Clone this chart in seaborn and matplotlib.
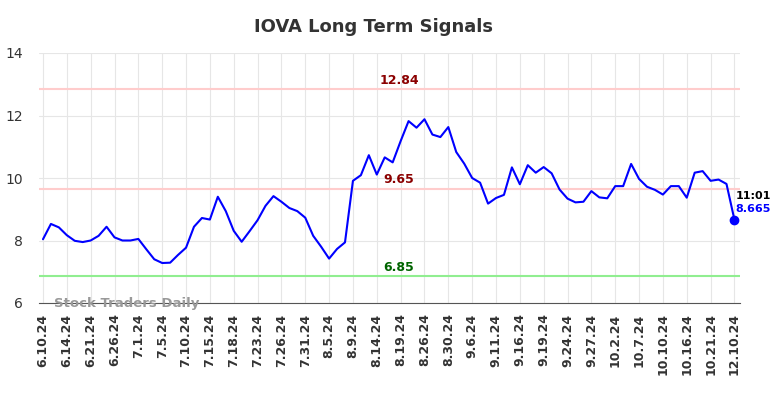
import numpy as np
import pandas as pd
import seaborn as sns
import matplotlib.pyplot as plt

# closing prices, one per trading day
prices = [8.04, 8.53, 8.42, 8.17, 7.99, 7.95, 8.00, 8.15, 8.44, 8.10,
          8.00, 8.00, 8.05, 7.72, 7.40, 7.28, 7.29, 7.54, 7.77, 8.44,
          8.72, 8.67, 9.40, 8.94, 8.31, 7.96, 8.30, 8.65, 9.11, 9.42,
          9.24, 9.04, 8.94, 8.73, 8.15, 7.80, 7.42, 7.73, 7.94, 9.91,
          10.09, 10.73, 10.11, 10.66, 10.50, 11.18, 11.82, 11.61, 11.88, 11.39,
          11.31, 11.63, 10.83, 10.46, 10.00, 9.85, 9.18, 9.36, 9.46, 10.34,
          9.80, 10.41, 10.17, 10.35, 10.15, 9.63, 9.34, 9.22, 9.24, 9.58,
          9.38, 9.35, 9.74, 9.74, 10.45, 9.97, 9.72, 9.62, 9.47, 9.74,
          9.74, 9.37, 10.17, 10.22, 9.91, 9.95, 9.81, 8.665]

tick_labels = ["6.10.24", "6.14.24", "6.21.24", "6.26.24", "7.1.24", "7.5.24",
               "7.10.24", "7.15.24", "7.18.24", "7.23.24", "7.26.24", "7.31.24",
               "8.5.24", "8.9.24", "8.14.24", "8.19.24", "8.26.24", "8.30.24",
               "9.6.24", "9.11.24", "9.16.24", "9.19.24", "9.24.24", "9.27.24",
               "10.2.24", "10.7.24", "10.10.24", "10.16.24", "10.21.24", "12.10.24"]

resistance_levels = [12.84, 9.65]
support_level = 6.85
last_time = "11:01"

df = pd.DataFrame({"idx": np.arange(len(prices)), "price": prices})

sns.set_style("whitegrid", {"grid.color": "#e6e6e6"})
fig = plt.figure(figsize=(7.84, 3.98), dpi=100)
ax = fig.add_axes([39 / 784, 1 - 303 / 398, (740 - 39) / 784, 250 / 398])

for lvl in resistance_levels:
    ax.axhline(lvl, color="#ffcccc", lw=1.5, zorder=1)
ax.axhline(support_level, color="#90ee90", lw=1.5, zorder=1)

sns.lineplot(data=df, x="idx", y="price", color="blue", lw=1.5, ax=ax, zorder=3)
ax.plot(df["idx"].iloc[-1], prices[-1], "o", color="blue", ms=6, zorder=4)

ax.set_xlim(-0.5, 87.7)
ax.set_ylim(6, 14)
ax.set_yticks([6, 8, 10, 12, 14])
ax.set_xticks(np.arange(0, len(prices), 3))
ax.set_xticklabels(tick_labels, rotation=90, fontsize=9, fontweight="bold", color="#333333")
ax.tick_params(axis="y", labelsize=10, colors="#333333", pad=8)
ax.tick_params(axis="x", pad=4)
ax.set_xlabel("")
ax.set_ylabel("")

for s in ["left", "right", "top"]:
    ax.spines[s].set_visible(False)
ax.spines["bottom"].set_color("#555555")

xmid = 44.8
for lvl in resistance_levels:
    ax.text(xmid, lvl + 0.08, f"{lvl:.2f}", color="#8b0000", fontsize=9,
            fontweight="bold", ha="center", va="bottom")
ax.text(xmid, support_level + 0.08, f"{support_level:.2f}", color="#006400",
        fontsize=9, fontweight="bold", ha="center", va="bottom")

ax.text(87.1, 9.42, last_time, color="black", fontsize=8, fontweight="bold",
        ha="left", va="center")
ax.text(87.1, 9.02, f"{prices[-1]:.3f}", color="blue", fontsize=8, fontweight="bold",
        ha="left", va="center")

ax.text(1.4, 6.0, "Stock Traders Daily", color="#999999", fontsize=9.5,
        fontweight="bold", ha="left", va="center", zorder=5)

fig.suptitle("IOVA Long Term Signals", x=374 / 784, y=1 - 27 / 398, va="center",
             fontsize=13, fontweight="bold", color="#333333")

fig.savefig("out.png", dpi=100)
